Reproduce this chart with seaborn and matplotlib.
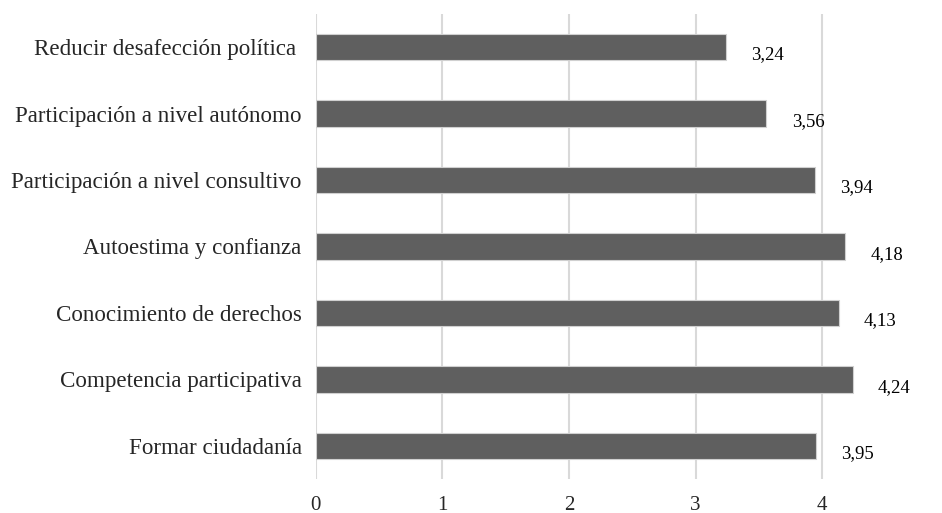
import pandas as pd
import matplotlib.pyplot as plt
import seaborn as sns

categorias = ['Reducir desafección política ', 'Participación a nivel autónomo',
              'Participación a nivel consultivo', 'Autoestima y confianza',
              'Conocimiento de derechos', 'Competencia participativa',
              'Formar ciudadanía']
valores = [3.24, 3.56, 3.94, 4.18, 4.13, 4.24, 3.95]
ticks_x = [0, 1, 2, 3, 4]

df = pd.DataFrame({'categoria': categorias, 'valor': valores})

sns.set_style('white')
plt.rcParams['font.family'] = ['Liberation Serif', 'DejaVu Serif']

fig, ax = plt.subplots(figsize=(9.42, 5.13), dpi=100)
fig.subplots_adjust(left=0.335, right=0.94, top=0.973, bottom=0.066)

sns.barplot(data=df, x='valor', y='categoria', color='#5f5f5f', width=0.4,
            edgecolor='#d0d0d0', linewidth=0.8, saturation=1, ax=ax, zorder=3)

for i, v in enumerate(valores):
    ax.text(v + 0.2, i + 0.12, f'{v:.2f}'.replace('.', ','), fontsize=13.5,
            va='center', ha='left', color='black')

ax.set_xlim(0, 4.5)
ax.set_ylim(6.5, -0.5)
ax.set_xticks(ticks_x)
ax.set_xticklabels([str(t) for t in ticks_x], fontsize=15)
ax.tick_params(axis='y', labelsize=16.6, length=0, pad=10)
ax.tick_params(axis='x', length=0, pad=12)
ax.xaxis.grid(True, color='#d9d9d9', linewidth=1.5, zorder=0)
ax.set_axisbelow(True)
for s in ax.spines.values():
    s.set_visible(False)
ax.set_xlabel('')
ax.set_ylabel('')

plt.savefig('out.png', dpi=100)
